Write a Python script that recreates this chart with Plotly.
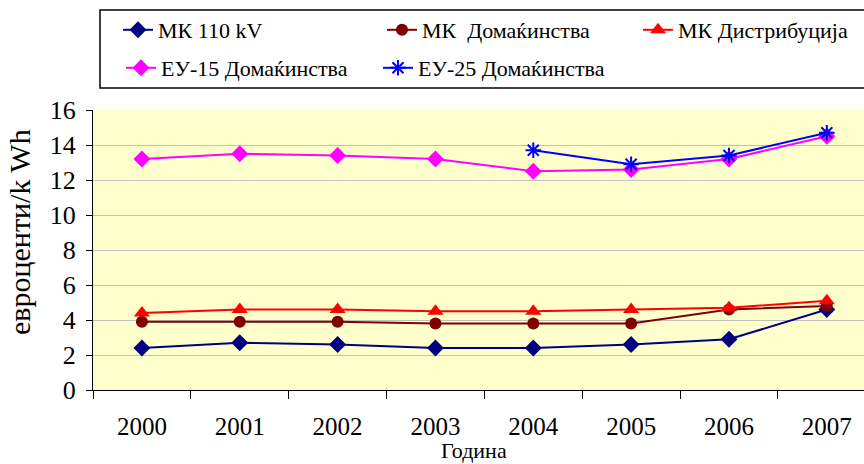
import plotly.graph_objects as go

years = ["2000", "2001", "2002", "2003", "2004", "2005", "2006", "2007"]
mk_110kv = [2.4, 2.7, 2.6, 2.4, 2.4, 2.6, 2.9, 4.6]
mk_households = [3.9, 3.9, 3.9, 3.8, 3.8, 3.8, 4.6, 4.8]
mk_distribution = [4.4, 4.6, 4.6, 4.5, 4.5, 4.6, 4.7, 5.1]
eu15_households = [13.2, 13.5, 13.4, 13.2, 12.5, 12.6, 13.2, 14.5]
eu25_households = [None, None, None, None, 13.7, 12.9, 13.4, 14.7]

FONT = "Liberation Serif"

fig = go.Figure()
fig.add_trace(go.Scatter(x=years, y=mk_110kv, name="МК 110 kV", mode="lines+markers",
                         line=dict(color="#000080", width=2),
                         marker=dict(symbol="diamond", size=13, color="#000080"),
                         legend="legend"))
fig.add_trace(go.Scatter(x=years, y=mk_households, name="МК  Домаќинства", mode="lines+markers",
                         line=dict(color="#800000", width=2),
                         marker=dict(symbol="circle", size=12, color="#800000"),
                         legend="legend2"))
fig.add_trace(go.Scatter(x=years, y=mk_distribution, name="МК Дистрибуција", mode="lines+markers",
                         line=dict(color="#FF0000", width=2),
                         marker=dict(symbol="triangle-up", size=14, color="#FF0000"),
                         legend="legend3"))
fig.add_trace(go.Scatter(x=years, y=eu15_households, name="ЕУ-15 Домаќинства", mode="lines+markers",
                         line=dict(color="#FF00FF", width=2),
                         marker=dict(symbol="diamond", size=13, color="#FF00FF"),
                         legend="legend4"))
fig.add_trace(go.Scatter(x=years, y=eu25_households, name="ЕУ-25 Домаќинства", mode="lines+markers",
                         line=dict(color="#0000FF", width=2),
                         marker=dict(symbol="asterisk-open", size=13, color="#0000FF",
                                     line=dict(color="#0000FF", width=2)),
                         legend="legend5"))

L, T, W, H = 93, 110, 771, 280

def px(xp):
    return (xp - L) / W

def py(yp):
    return 1 + (T - yp) / H

def leg(xp, yp):
    return dict(x=px(xp), y=py(yp), xanchor="left", yanchor="middle",
                bgcolor="rgba(0,0,0,0)", borderwidth=0,
                font=dict(family=FONT, size=22, color="black"), itemclick=False)

fig.update_layout(
    width=864, height=464,
    margin=dict(l=L, r=0, t=T, b=464 - T - H),
    paper_bgcolor="white",
    plot_bgcolor="#FFFFCC",
    font=dict(family=FONT, size=21, color="black"),
    xaxis=dict(type="category", range=[-0.5, 7.38], tickson="boundaries",
               ticks="outside", ticklen=8, tickcolor="black", tickwidth=1,
               showline=True, linecolor="black", linewidth=1, showgrid=False,
               tickfont=dict(family=FONT, size=25), ticklabelstandoff=14),
    yaxis=dict(range=[0, 16], dtick=2, ticks="outside", ticklen=6, tickcolor="black",
               showline=True, linecolor="black", linewidth=1,
               showgrid=True, gridcolor="#C0C0C0", gridwidth=1.3, zeroline=False,
               tickfont=dict(family=FONT, size=26), ticklabelstandoff=5),
    annotations=[
        dict(text="евроценти/k Wh", textangle=-90, xref="paper", yref="paper",
             x=px(19), y=py(232), xanchor="center", yanchor="middle",
             showarrow=False, font=dict(family=FONT, size=30, color="black")),
        dict(text="Година", xref="paper", yref="paper",
             x=px(474), y=py(450), xanchor="center", yanchor="middle",
             showarrow=False, font=dict(family=FONT, size=22, color="black")),
    ],
    legend=leg(118, 30),
    legend2=leg(382, 30),
    legend3=leg(638, 30),
    legend4=leg(121, 68),
    legend5=leg(378, 68),
    shapes=[dict(type="rect", xref="paper", yref="paper",
                 x0=px(100), x1=px(866), y0=py(88), y1=py(10),
                 line=dict(color="black", width=1.5), fillcolor="rgba(0,0,0,0)")],
    showlegend=True,
)

fig.write_html("out.html", config={"displayModeBar": False},
               post_script="document.body.style.margin='0';document.body.style.padding='0';")
